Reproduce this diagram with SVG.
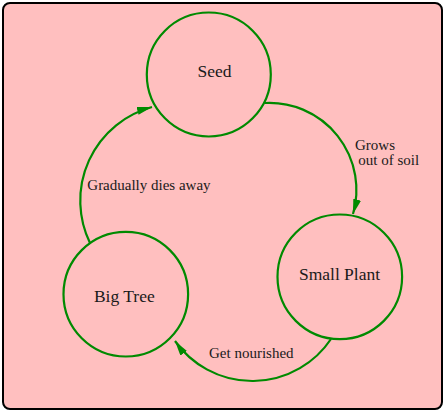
<svg xmlns="http://www.w3.org/2000/svg" width="445" height="412" viewBox="0 0 445 412">
<style>
.node{fill:none;stroke:#008a00;stroke-width:2.2}
.edge{fill:none;stroke:#008a00;stroke-width:2.2}
.nl{font-family:"Liberation Serif","Times New Roman",serif;font-size:17.5px;fill:#1a1a1a;text-anchor:middle}
.el{font-family:"Liberation Serif","Times New Roman",serif;font-size:15px;fill:#1a1a1a}
</style>
<defs>
<marker id="ah" markerUnits="userSpaceOnUse" markerWidth="16" markerHeight="10" refX="15" refY="4" orient="auto">
<path d="M0,0 L15,4 L0,8 z" fill="#008a00"/>
</marker>
</defs>
<rect x="3" y="3" width="439" height="406" rx="7" ry="7" fill="#ffbfbf" stroke="#000" stroke-width="2"/>
<g id="connectors">
<path class="edge" d="M265,103 A87,87 0 0 1 353,214" marker-end="url(#ah)"/>
<path class="edge" d="M331,339 A94.7,94.7 0 0 1 175,341" marker-end="url(#ah)"/>
<path class="edge" d="M90,243 A97,97 0 0 1 152,107" marker-end="url(#ah)"/>
<text class="el" x="355" y="150">Grows</text>
<text class="el" x="358.3" y="164.5">out of soil</text>
<text class="el" x="209" y="357.7">Get nourished</text>
<text class="el" x="87.3" y="190">Gradually dies away</text>
</g>
<g id="seed">
<circle class="node" cx="208.8" cy="74.5" r="62"/>
<text class="nl" x="214.5" y="77">Seed</text>
</g>
<g id="small-plant">
<circle class="node" cx="339.8" cy="276.8" r="62.3"/>
<text class="nl" x="339.5" y="280">Small Plant</text>
</g>
<g id="big-tree">
<circle class="node" cx="125.8" cy="294.2" r="62.3"/>
<text class="nl" x="124.3" y="301.7">Big Tree</text>
</g>
</svg>
